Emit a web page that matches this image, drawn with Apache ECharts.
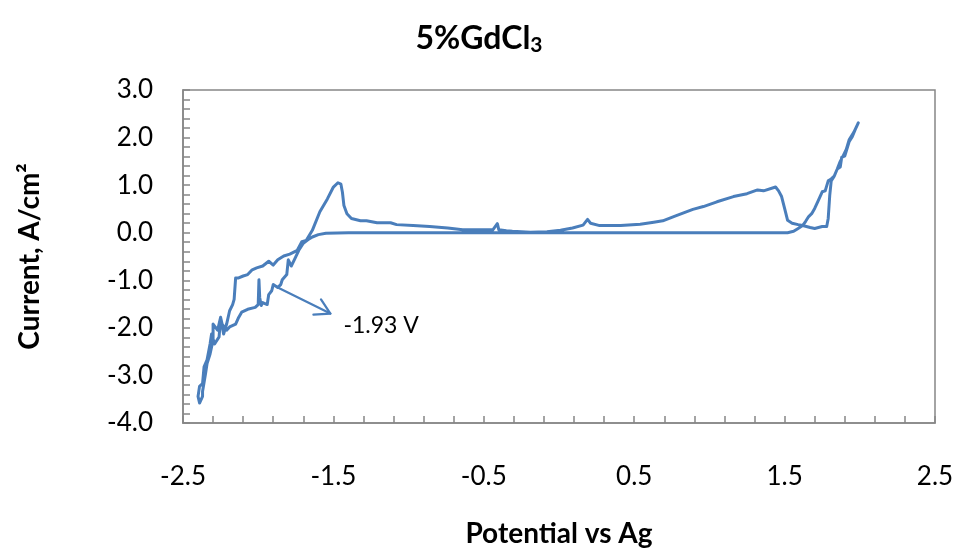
<!DOCTYPE html>
<html>
<head>
<meta charset="utf-8">
<title>5%GdCl3 cyclic voltammogram</title>
<script src="https://cdn.jsdelivr.net/npm/echarts@6/dist/echarts.min.js"></script>
<style>
  html, body { margin: 0; padding: 0; background: #ffffff; }
  #chart { width: 958px; height: 553px; }
</style>
</head>
<body>
<div id="chart"></div>
<script>
// Cyclic voltammogram, one continuous sweep (potential in V vs Ag, current in A/cm2)
var potential = [
  1.50, 1.00, 0.50, 0.00, -0.50, -1.00, -1.40, -1.55, -1.60, -1.64, -1.67, -1.70,
  -1.73, -1.76, -1.78, -1.80, -1.81, -1.84, -1.85, -1.87, -1.90, -1.91, -1.93, -1.94,
  -1.97, -1.98, -1.99, -1.995, -2.00, -2.02, -2.07, -2.11, -2.13, -2.15, -2.19, -2.21,
  -2.24, -2.25, -2.26, -2.29, -2.31, -2.32, -2.34, -2.36, -2.37, -2.39, -2.40, -2.40,
  -2.39, -2.37,
  -2.37, -2.35, -2.34, -2.32, -2.30, -2.30, -2.27, -2.25, -2.23, -2.21, -2.19, -2.17,
  -2.16, -2.15, -2.13, -2.10, -2.07, -2.04, -2.01, -1.97, -1.93, -1.90, -1.87, -1.83,
  -1.79, -1.74, -1.71, -1.68, -1.64, -1.59, -1.54, -1.50, -1.47, -1.45, -1.44, -1.43,
  -1.41, -1.38, -1.32, -1.28, -1.21, -1.12, -1.08, -0.97, -0.86, -0.74, -0.64, -0.53,
  -0.44, -0.41, -0.40, -0.35, -0.31, -0.19, -0.08, 0.01, 0.09, 0.16, 0.19, 0.21,
  0.27, 0.41, 0.54, 0.63, 0.69, 0.78, 0.89, 0.96, 1.05, 1.16, 1.25, 1.32,
  1.36, 1.44, 1.46, 1.48, 1.50, 1.52, 1.55, 1.59, 1.62, 1.67, 1.70, 1.75,
  1.78, 1.79, 1.80, 1.81, 1.83, 1.85, 1.87, 1.89, 1.91, 1.93, 1.96, 1.99, 2.00,
  1.97, 1.95, 1.93, 1.90, 1.88, 1.87, 1.85, 1.83, 1.81, 1.79, 1.77, 1.75,
  1.72, 1.70, 1.68, 1.66, 1.64, 1.62, 1.59, 1.56, 1.52, 1.50
];
var current = [
  0.00, 0.00, 0.00, 0.00, 0.00, 0.00, 0.00, -0.01, -0.04, -0.09, -0.15, -0.22,
  -0.37, -0.57, -0.70, -0.57, -0.88, -0.99, -1.09, -1.15, -1.09, -1.22, -1.30, -1.51,
  -1.47, -1.53, -1.36, -0.99, -1.51, -1.57, -1.61, -1.67, -1.78, -1.92, -1.98, -2.05,
  -1.92, -1.78, -2.19, -2.34, -2.13, -2.34, -2.67, -2.82, -3.17, -3.23, -3.19, -3.44,
  -3.58, -3.44,
  -3.34, -2.96, -2.75, -2.55, -2.26, -1.92, -2.05, -1.78, -2.13, -1.92, -1.64, -1.51,
  -1.40, -0.95, -0.95, -0.91, -0.88, -0.78, -0.74, -0.70, -0.60, -0.68, -0.57, -0.49,
  -0.45, -0.37, -0.19, -0.16, 0.05, 0.44, 0.71, 0.96, 1.05, 1.02, 0.85, 0.57,
  0.40, 0.30, 0.25, 0.25, 0.21, 0.21, 0.17, 0.15, 0.13, 0.10, 0.06, 0.06,
  0.06, 0.19, 0.06, 0.04, 0.03, 0.01, 0.02, 0.05, 0.10, 0.16, 0.28, 0.20,
  0.15, 0.15, 0.18, 0.22, 0.25, 0.36, 0.49, 0.55, 0.65, 0.76, 0.82, 0.90,
  0.88, 0.96, 0.88, 0.76, 0.51, 0.26, 0.20, 0.17, 0.15, 0.11, 0.09, 0.13,
  0.13, 0.30, 0.78, 1.09, 1.19, 1.34, 1.50, 1.62, 1.75, 1.96, 2.11, 2.31, 2.33,
  2.17, 2.02, 1.92, 1.61, 1.59, 1.38, 1.34, 1.19, 1.13, 1.09, 0.88, 0.86,
  0.65, 0.51, 0.40, 0.34, 0.24, 0.15, 0.09, 0.03, 0.00, 0.00
];

// Axis labelling
var xLabelValues = [-2.5, -1.5, -0.5, 0.5, 1.5, 2.5];
var yLabelValues = [-4, -3, -2, -1, 0, 1, 2, 3];

// Callout pointing at the reduction wave
var calloutFrom = [-1.87, -1.15];
var calloutTo = [-1.52, -1.70];
var calloutText = '-1.93 V';

var chartTitle = '5%GdCl{sub|3}';
var xAxisTitle = 'Potential vs Ag';
var yAxisTitle = 'Current, A/cm\u00B2';

// Tick marks every 0.2 along both axes
function tickRange(lo, hi, step) {
  var out = [];
  var n = Math.round((hi - lo) / step);
  for (var i = 0; i <= n; i++) out.push(+(lo + i * step).toFixed(4));
  return out;
}
var xTicks = tickRange(-2.5, 2.5, 0.2);
var yTicks = tickRange(-4, 3, 0.2);

var curve = potential.map(function (v, i) { return [v, current[i]]; });

var FONT = 'Lato, "Liberation Sans", sans-serif';
var LINE_BLUE = '#4a7ebb';
var AXIS_GREY = '#868686';

var chart = echarts.init(document.getElementById('chart'), null, { renderer: 'canvas' });

chart.setOption({
  animation: false,
  backgroundColor: '#ffffff',
  title: {
    text: chartTitle,
    left: 'center',
    top: 16,
    textStyle: {
      fontFamily: FONT,
      fontWeight: 'bold',
      fontSize: 32,
      color: '#000000',
      rich: {
        sub: {
          fontFamily: FONT,
          fontWeight: 'bold',
          fontSize: 21,
          color: '#000000',
          verticalAlign: 'bottom',
          padding: [14, 0, 0, 0]
        }
      }
    }
  },
  grid: {
    left: 183,
    top: 90,
    width: 752,
    height: 337,
    show: true,
    borderColor: AXIS_GREY,
    borderWidth: 1.5,
    backgroundColor: 'transparent'
  },
  xAxis: {
    type: 'value',
    min: -2.5,
    max: 2.5,
    name: xAxisTitle,
    nameLocation: 'middle',
    nameGap: 97,
    nameTextStyle: { fontFamily: FONT, fontWeight: 'bold', fontSize: 28, color: '#000' },
    axisLine: { show: true, onZero: false, lineStyle: { color: AXIS_GREY, width: 1.5 } },
    axisTick: { show: true, inside: true, length: 7, customValues: xTicks, lineStyle: { color: AXIS_GREY, width: 1.5 } },
    axisLabel: {
      customValues: xLabelValues,
      margin: 41,
      fontFamily: FONT,
      fontSize: 26,
      color: '#000',
      formatter: function (v) { return v.toFixed(1); }
    },
    splitLine: { show: false }
  },
  yAxis: {
    type: 'value',
    min: -4,
    max: 3,
    interval: 1,
    name: yAxisTitle,
    nameLocation: 'middle',
    nameGap: 139,
    nameRotate: 90,
    nameTextStyle: { fontFamily: FONT, fontWeight: 'bold', fontSize: 28, color: '#000' },
    axisLine: { show: true, onZero: false, lineStyle: { color: AXIS_GREY, width: 1.5 } },
    axisTick: { show: true, inside: true, length: 7, customValues: yTicks, lineStyle: { color: AXIS_GREY, width: 1.5 } },
    axisLabel: {
      customValues: yLabelValues,
      margin: 30,
      fontFamily: FONT,
      fontSize: 26,
      color: '#000',
      formatter: function (v) { return v.toFixed(1); }
    },
    splitLine: { show: false }
  },
  series: [
    {
      type: 'line',
      data: curve,
      showSymbol: false,
      smooth: false,
      lineStyle: { color: LINE_BLUE, width: 3, join: 'round', cap: 'round' },
      z: 3
    },
    {
      type: 'custom',
      data: [[calloutFrom[0], calloutFrom[1], calloutTo[0], calloutTo[1]]],
      renderItem: function (params, api) {
        var a = api.coord([api.value(0), api.value(1)]);
        var b = api.coord([api.value(2), api.value(3)]);
        var ang = Math.atan2(b[1] - a[1], b[0] - a[0]);
        var headLen = 17, spread = Math.PI / 6;
        var h1 = [b[0] - headLen * Math.cos(ang - spread), b[1] - headLen * Math.sin(ang - spread)];
        var h2 = [b[0] - headLen * Math.cos(ang + spread), b[1] - headLen * Math.sin(ang + spread)];
        var stroke = { stroke: LINE_BLUE, lineWidth: 2.25, fill: null, lineCap: 'round', lineJoin: 'round' };
        return {
          type: 'group',
          children: [
            { type: 'polyline', shape: { points: [a, b] }, style: stroke },
            { type: 'polyline', shape: { points: [h1, b, h2] }, style: stroke },
            {
              type: 'text',
              style: {
                text: calloutText,
                x: b[0] + 13,
                y: b[1] + 12,
                verticalAlign: 'middle',
                align: 'left',
                fontFamily: FONT,
                fontSize: 23,
                fill: '#000'
              }
            }
          ]
        };
      },
      z: 4
    }
  ]
});
</script>
</body>
</html>
